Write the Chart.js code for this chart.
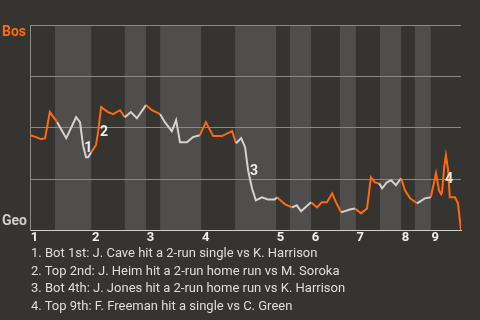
<!DOCTYPE html>
<html>
<head>
<meta charset="utf-8">
<script src="https://cdn.jsdelivr.net/npm/chart.js@4/dist/chart.umd.min.js"></script>
<style>
  html, body { margin: 0; padding: 0; background: #363430; }
  #wrap { position: relative; width: 480px; height: 320px; overflow: hidden; font-family: Roboto, sans-serif; }
  #chart { position: absolute; left: 0; top: 0; }
  .team { position: absolute; left: 2px; font-weight: bold; font-size: 14px; line-height: 16px; }
  #bos { top: 23px; color: #ff6a10; }
  #geo { top: 212px; color: #cfcfcf; }
  #notes { position: absolute; left: 31px; top: 244px; font-size: 13px; line-height: 17.7px; color: #dedede; }
</style>
</head>
<body>
<div id="wrap">
  <canvas id="chart" width="480" height="250"></canvas>
  <div class="team" id="bos">Bos</div>
  <div class="team" id="geo">Geo</div>
  <div id="notes"></div>
</div>
<script>
// ── Data ─────────────────────────────────────────────────────────────────────

const ORANGE = '#ff6a10';
const WHITE = '#d2d2d2';
const BAND = '#4f4e4c';
const GRID = '#8a8986';

// game progress (0-100) and Bos win probability (%)
const progress = [0, 1.4, 2.6, 3.5, 4.6, 6.3, 8.4, 10.7, 11.6, 12.3, 13.0, 13.5, 14.2, 15.3, 15.8,
    16.5, 18.1, 19.3, 20.9, 22.0, 23.4, 24.8, 26.9, 28.3, 30.2, 31.3, 32.9, 33.9, 34.8, 36.4,
    37.8, 39.4, 40.8, 42.5, 44.5, 46.9, 47.8, 49.0, 49.9, 50.6, 51.5, 52.4, 53.8, 55.2, 56.8,
    57.3, 59.2, 60.8, 61.9, 62.9, 65.2, 66.6, 67.7, 68.9, 70.1, 71.0, 72.2, 74.2, 75.4, 76.8,
    78.2, 79.1, 80.0, 81.0, 81.7, 82.8, 83.8, 84.9, 86.1, 87.0, 88.2, 89.8, 91.6, 93.0, 93.5,
    94.2, 94.9, 95.4, 95.6, 96.1, 96.5, 97.0, 97.4, 98.6, 99.3, 100];
const winProb = [46.3, 45.4, 44.4, 44.9, 57.6, 52.7, 44.9, 55.1, 52.7, 41.5, 35.6, 35.6, 38.0, 41.5, 47.8,
    60.0, 57.6, 56.6, 58.5, 55.1, 57.6, 54.6, 61.0, 58.5, 56.6, 52.7, 48.3, 53.7, 42.9, 42.9,
    45.4, 46.3, 52.7, 45.9, 45.9, 48.3, 42.4, 44.9, 40.5, 29.3, 20.5, 14.6, 16.1, 15.1, 15.1,
    16.1, 12.7, 11.2, 12.2, 9.3, 13.7, 11.2, 13.7, 13.7, 18.0, 13.7, 8.8, 10.2, 10.7, 8.3,
    10.7, 25.9, 23.4, 22.9, 20.5, 23.4, 24.4, 22.0, 25.4, 19.5, 15.6, 13.2, 15.6, 16.1, 21.0,
    27.8, 19.5, 17.6, 18.5, 30.7, 36.6, 29.3, 16.1, 16.1, 13.2, 0];

// half-inning boundaries: top 1st, bot 1st, top 2nd, ...
const halfBreaks = [0, 5.8, 14.2, 22.0, 26.9, 30.2, 39.7, 47.6, 57.1, 60.3, 65.2, 71.9, 75.6,
    81.2, 86.1, 89.3, 93.0, 100];
const inningLabels = ['1', '2', '3', '4', '5', '6', '7', '8', '9'];
const inningStart = [0, 14.2, 26.9, 39.7, 57.1, 65.2, 75.6, 86.1, 93.0];

const noteLabels = ['1', '2', '3', '4'];
const noteX = [13.5, 17.2, 52.0, 97.2];
const noteY = [40.0, 47.8, 28.8, 24.9];
const noteText = [
    '1. Bot 1st: J. Cave hit a 2-run single vs K. Harrison',
    '2. Top 2nd: J. Heim hit a 2-run home run vs M. Soroka',
    '3. Bot 4th: J. Jones hit a 2-run home run vs K. Harrison',
    '4. Top 9th: F. Freeman hit a single vs C. Green'
];

// ── Helpers ──────────────────────────────────────────────────────────────────

function halfIndex(x) {
    for (let i = 0; i < halfBreaks.length - 1; i++) {
        if (x >= halfBreaks[i] && x < halfBreaks[i + 1]) return i;
    }
    return halfBreaks.length - 2;
}

const bandPlugin = {
    id: 'bands',
    beforeDraw(chart) {
        const { ctx, chartArea, scales } = chart;
        ctx.save();
        ctx.fillStyle = BAND;
        for (let i = 1; i < halfBreaks.length - 1; i += 2) {
            const x0 = scales.x.getPixelForValue(halfBreaks[i]);
            const x1 = scales.x.getPixelForValue(halfBreaks[i + 1]);
            ctx.fillRect(x0, chartArea.top, x1 - x0, chartArea.bottom - chartArea.top);
        }
        ctx.restore();
    }
};

const notePlugin = {
    id: 'notes',
    afterDatasetsDraw(chart) {
        const { ctx, scales } = chart;
        ctx.save();
        ctx.font = 'bold 14px Roboto';
        ctx.fillStyle = '#eeeeee';
        ctx.textAlign = 'center';
        ctx.textBaseline = 'middle';
        noteLabels.forEach((t, i) => {
            ctx.fillText(t, scales.x.getPixelForValue(noteX[i]), scales.y.getPixelForValue(noteY[i]));
        });
        ctx.restore();
    }
};

// ── Chart ────────────────────────────────────────────────────────────────────

new Chart(document.getElementById('chart'), {
    type: 'line',
    data: {
        datasets: [{
            data: progress.map((x, i) => ({ x: x, y: winProb[i] })),
            borderWidth: 2,
            pointRadius: 0,
            tension: 0,
            borderColor: ORANGE,
            segment: {
                borderColor: c => halfIndex((c.p0.parsed.x + c.p1.parsed.x) / 2) % 2 === 0 ? ORANGE : WHITE
            }
        }]
    },
    options: {
        responsive: false,
        animation: false,
        layout: { padding: { left: 30, right: 19, top: 25, bottom: 4 } },
        plugins: { legend: { display: false }, tooltip: { enabled: false } },
        scales: {
            x: {
                type: 'linear',
                min: 0,
                max: 100,
                afterBuildTicks: axis => { axis.ticks = inningStart.map(v => ({ value: v })); },
                ticks: {
                    autoSkip: false,
                    maxRotation: 0,
                    padding: 0,
                    labelOffset: 4.5,
                    font: { family: 'Roboto', size: 13, weight: 'bold' },
                    color: '#eeeeee',
                    callback: (v, i) => inningLabels[i]
                },
                grid: { display: false, drawTicks: false },
                border: { color: '#d0d0d0', width: 1 }
            },
            y: {
                min: 0,
                max: 100,
                ticks: { display: false, stepSize: 25 },
                grid: { color: GRID, drawTicks: false },
                border: { color: GRID, width: 1 }
            }
        }
    },
    plugins: [bandPlugin, notePlugin]
});

document.getElementById('notes').innerHTML = noteText.map(t => '<div>' + t + '</div>').join('');
</script>
</body>
</html>
